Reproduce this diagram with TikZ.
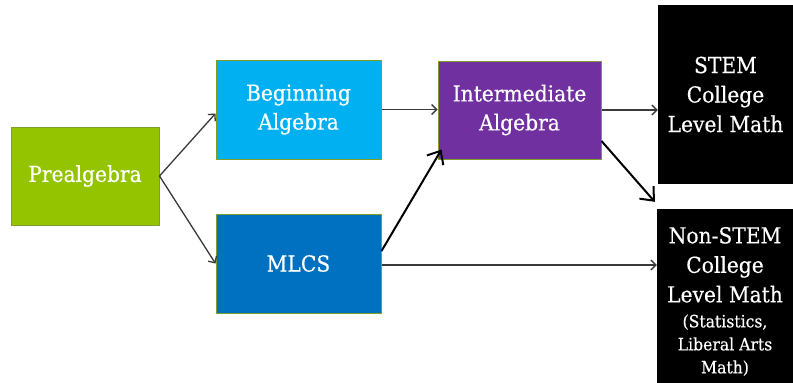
\documentclass[tikz,border=0pt]{standalone}
\usepackage{fontspec}
\newfontfamily\boxfont[FakeStretch=0.92,FakeBold=0.4]{DejaVu Serif}
\usetikzlibrary{arrows.meta}
\definecolor{cgreen}{HTML}{94C400}
\definecolor{clight}{HTML}{00B0F0}
\definecolor{cmid}{HTML}{0070C0}
\definecolor{cpurple}{HTML}{7030A0}
\definecolor{cborder}{HTML}{7F9F2A}
\definecolor{cgray}{HTML}{3A3A3A}
\begin{document}
\begin{tikzpicture}[x=1pt,y=-1pt,
  box/.style={draw=cborder, line width=1pt, text=white, align=center, inner sep=0pt,
    font=\boxfont\fontsize{22}{29}\selectfont},
  blackbox/.style={fill=black, draw=none, text=white, align=center, inner sep=0pt,
    font=\boxfont\fontsize{22}{29.5}\selectfont},
  thinarrow/.style={draw=cgray, line width=1.3pt, -{Straight Barb[length=5pt,width=10pt]}},
  thickarrow/.style={draw=black, line width=2pt, -{Straight Barb[length=11pt,width=19pt]}}]
\useasboundingbox (0,0) rectangle (793,383);
\node[box, fill=cgreen, minimum width=148pt, minimum height=98pt] (pre) at (85,176) {Prealgebra};
\node[box, fill=clight, minimum width=165pt, minimum height=99pt] (beg) at (298.5,109.5) {Beginning\\Algebra};
\node[box, fill=cmid, minimum width=165pt, minimum height=99pt] (mlcs) at (298.5,263.5) {MLCS};
\node[box, fill=cpurple, minimum width=163pt, minimum height=98pt] (int) at (519.5,110) {Intermediate\\Algebra};
\node[blackbox, minimum width=135pt, minimum height=179pt] (stem) at (725.5,94.5) {STEM\\College\\Level Math};
\node[blackbox, minimum width=136pt, minimum height=185pt] (nstem) at (725,301.5)
  {Non-STEM\\College\\Level Math\\[-4.5pt]{\fontsize{17}{23}\selectfont (Statistics,}\\[-6.5pt]{\fontsize{17}{23}\selectfont Liberal Arts}\\[-6.5pt]{\fontsize{17}{23}\selectfont Math)}};
\draw[thinarrow] (pre.east) -- ([yshift=-4pt]beg.west);
\draw[thinarrow] (pre.east) -- (mlcs.west);
\draw[thinarrow] (beg.east) -- (beg.east -| int.west);
\draw[thinarrow] (int.east) -- (int.east -| stem.west);
\draw[thinarrow] ([yshift=-1.5pt]mlcs.east) -- ([yshift=-1.5pt]mlcs.east -| nstem.west);
\draw[thickarrow] ([yshift=12.5pt]mlcs.east) -- ([shift={(4pt,10pt)}]int.south west);
\draw[thickarrow] ([yshift=-31pt]int.east) -- ([shift={(-2pt,7pt)}]nstem.north west);
\end{tikzpicture}
\end{document}
